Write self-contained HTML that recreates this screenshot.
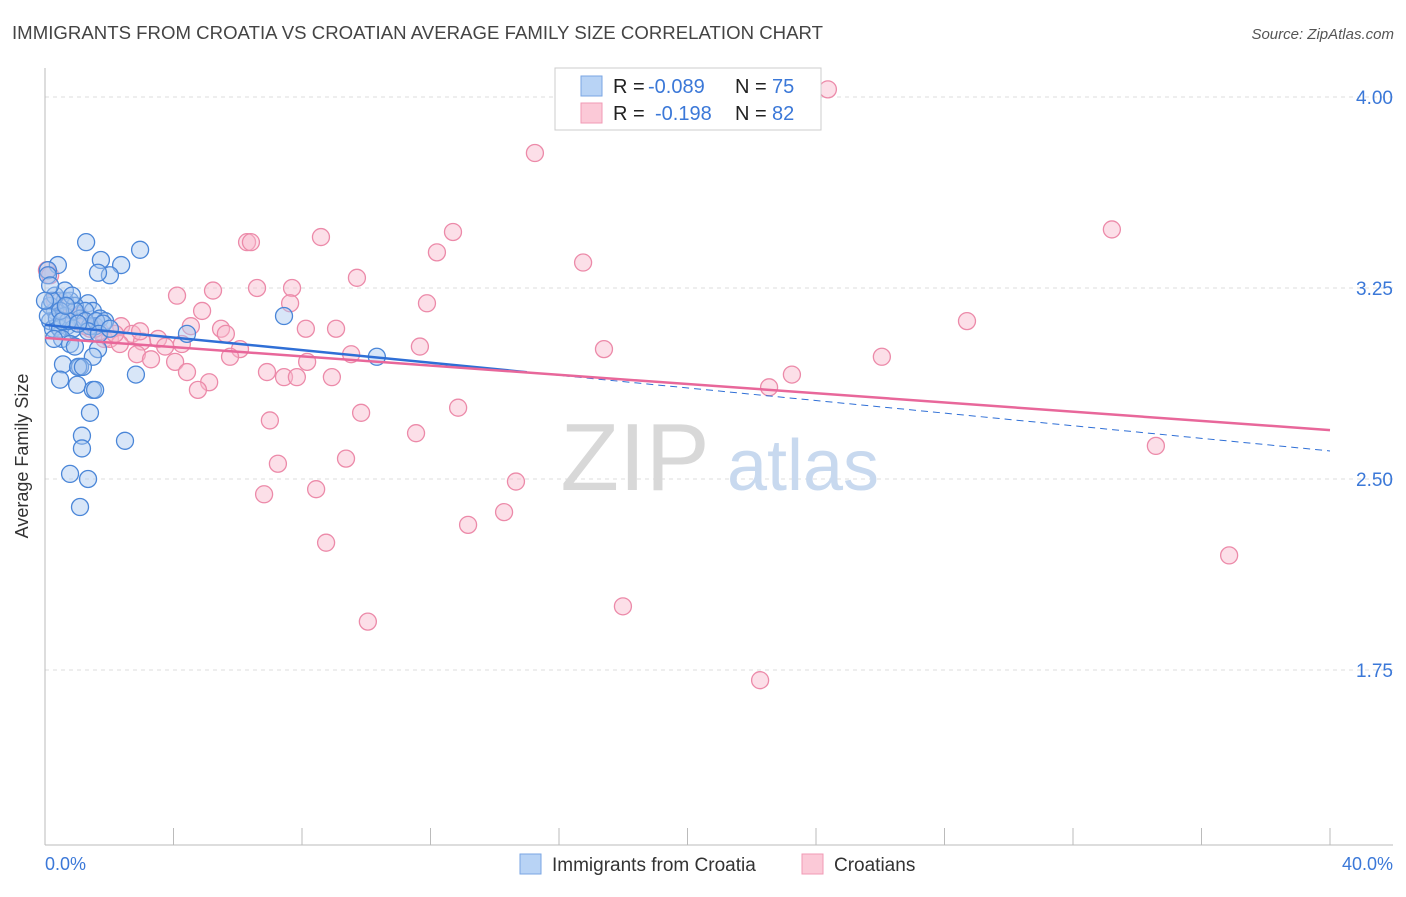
<!DOCTYPE html>
<html><head><meta charset="utf-8"><style>
body{margin:0;background:#fff;font-family:"Liberation Sans",sans-serif;}
svg text{font-family:"Liberation Sans",sans-serif;}
</style></head><body>
<svg id="chart" width="1406" height="892" viewBox="0 0 1406 892">
<text x="12" y="39" font-size="18.6" fill="#444" textLength="811">IMMIGRANTS FROM CROATIA VS CROATIAN AVERAGE FAMILY SIZE CORRELATION CHART</text>
<text x="1394" y="39" font-size="15" fill="#555" font-style="italic" text-anchor="end">Source: ZipAtlas.com</text>
<g id="grid"></g>
<g>
<text x="635" y="490" font-size="96" fill="#d8d8d8" font-family="Liberation Serif,serif" text-anchor="middle">ZIP</text>
<text x="803" y="490" font-size="72" fill="#c8d9ef" text-anchor="middle">atlas</text>
</g>
<g id="axes"></g>
<g id="pts"></g>
<g id="lines"></g>
<text x="28" y="456" font-size="18" fill="#333" text-anchor="middle" transform="rotate(-90 28 456)">Average Family Size</text>
<text x="45" y="870" font-size="18" fill="#3b78d8">0.0%</text>
<text x="1393" y="870" font-size="18" fill="#3b78d8" text-anchor="end">40.0%</text>
<g>
<rect x="555" y="68" width="266" height="62" fill="#fff" stroke="#ccc"/>
<rect x="581" y="76" width="21" height="20" fill="#b8d3f5" stroke="#7aa6e3"/>
<rect x="581" y="103" width="21" height="20" fill="#fbc9d7" stroke="#f09ab4"/>
<text x="613" y="93" font-size="20" fill="#222">R = <tspan fill="#3b78d8" x="648">-0.089</tspan></text>
<text x="735" y="93" font-size="20" fill="#222">N = <tspan fill="#3b78d8" x="772">75</tspan></text>
<text x="613" y="120" font-size="20" fill="#222">R = <tspan fill="#3b78d8" x="655">-0.198</tspan></text>
<text x="735" y="120" font-size="20" fill="#222">N = <tspan fill="#3b78d8" x="772">82</tspan></text>
</g>
<g>
<rect x="520" y="854" width="21" height="20" fill="#b8d3f5" stroke="#7aa6e3"/>
<text x="552" y="871" font-size="19" fill="#333">Immigrants from Croatia</text>
<rect x="802" y="854" width="21" height="20" fill="#fbc9d7" stroke="#f09ab4"/>
<text x="834" y="871" font-size="19" fill="#333">Croatians</text>
</g>
</svg>
<script>
const yTicks=[4.00,3.25,2.50,1.75];
const yTickLabels=["4.00","3.25","2.50","1.75"];
const blueX=[1.28,2.96,1.74,2.37,2.02,1.65,0.40,0.09,0.09,0.47,0.62,0.78,1.34,0.93,1.49,1.25,0.31,0.62,1.09,1.71,0.16,0.40,0.68,1.56,1.87,0.25,0.47,0.87,1.40,0.53,0.78,0.93,1.65,1.49,0.56,1.09,1.03,1.18,2.83,0.47,1.00,1.49,1.56,1.40,1.15,2.49,1.15,0.78,1.34,1.09,7.44,4.42,10.33,0.16,0.31,0.62,0.93,1.25,0.22,0.37,0.72,0.09,0.47,0.84,1.59,1.81,1.34,0.16,0.0,0.53,0.65,1.03,0.28,1.68,2.02];
const blueY=[3.43,3.40,3.36,3.34,3.30,3.31,3.34,3.32,3.30,3.20,3.20,3.20,3.19,3.18,3.16,3.16,3.16,3.14,3.13,3.13,3.12,3.10,3.10,3.10,3.12,3.09,3.09,3.09,3.10,3.05,3.03,3.02,3.01,2.98,2.95,2.94,2.94,2.94,2.91,2.89,2.87,2.85,2.85,2.76,2.67,2.65,2.62,2.52,2.50,2.39,3.14,3.07,2.98,3.18,3.22,3.24,3.16,3.12,3.20,3.13,3.12,3.14,3.16,3.22,3.12,3.11,3.08,3.26,3.20,3.12,3.18,3.11,3.05,3.07,3.09];
const pinkX=[24.37,15.25,33.21,12.70,8.59,6.29,6.41,12.20,16.75,9.71,0.06,5.23,6.60,7.69,4.11,7.63,11.89,4.89,28.70,9.06,8.12,5.48,4.54,2.37,5.63,2.71,3.52,1.84,3.02,4.26,3.74,6.07,11.67,17.40,9.53,26.05,5.76,2.86,3.30,4.05,8.16,6.91,4.42,7.44,7.84,8.93,23.25,5.11,4.76,22.54,12.86,9.84,7.00,11.55,9.37,7.25,14.66,8.44,6.82,14.29,13.17,8.75,34.58,36.86,17.99,10.05,22.26,0.47,0.93,1.40,0.31,2.02,1.25,0.72,1.71,2.33,0.62,1.56,2.18,0.16,2.96,1.09];
const pinkY=[4.03,3.78,3.48,3.47,3.45,3.43,3.43,3.39,3.35,3.29,3.32,3.24,3.25,3.25,3.22,3.19,3.19,3.16,3.12,3.09,3.09,3.09,3.10,3.10,3.07,3.07,3.05,3.05,3.04,3.03,3.02,3.01,3.02,3.01,2.99,2.98,2.98,2.99,2.97,2.96,2.96,2.92,2.92,2.90,2.90,2.90,2.91,2.88,2.85,2.86,2.78,2.76,2.73,2.68,2.58,2.56,2.49,2.46,2.44,2.37,2.32,2.25,2.63,2.20,2.00,1.94,1.71,3.16,3.12,3.09,3.20,3.05,3.10,3.13,3.08,3.03,3.18,3.09,3.07,3.30,3.08,3.14];
const blueTrend=[3.105,-0.01237];
const pinkTrend=[3.054,-0.00905];
const blueSolidEnd=15;
const NS='http://www.w3.org/2000/svg';
function xs(p){return 45+p*32.125;}
function ys(v){return 97+(4-v)*254.67;}
function mk(tag,attrs,parent){const e=document.createElementNS(NS,tag);for(const k in attrs)e.setAttribute(k,attrs[k]);parent.appendChild(e);return e;}
const grid=document.getElementById('grid'),axes=document.getElementById('axes'),pts=document.getElementById('pts'),lines=document.getElementById('lines');
yTicks.forEach((v,i)=>{
 const l=mk('line',{x1:45,x2:1393,y1:ys(v),y2:ys(v),stroke:'#ddd','stroke-dasharray':'4 4'},grid);
 
 
 const t=mk('text',{x:1393,y:ys(v)+7,'font-size':19,fill:'#3b78d8','text-anchor':'end'},axes);
 t.textContent=yTickLabels[i];
 
 
});
const ya=mk('line',{x1:45,x2:45,y1:68,y2:845,stroke:'#bbb'},axes);


const xa=mk('line',{x1:45,x2:1393,y1:845,y2:845,stroke:'#bbb'},axes);


for(let i=0;i<=10;i++){
 const t=mk('line',{x1:xs(i*4),x2:xs(i*4),y1:828,y2:845,stroke:'#bbb'},axes);
 
 
}
function dots(X,Y,fill,stroke,name){
 X.forEach((x,i)=>{
  const c=mk('circle',{cx:xs(x),cy:ys(Y[i]),r:8.5,fill:fill,'fill-opacity':0.45,stroke:stroke,'stroke-width':1.3},pts);
  
  
 });
}
dots(pinkX,pinkY,'#f9b7cb','#ec8aa9','point-croatians');
dots(blueX,blueY,'#a9c8f0','#4a86d8','point-immigrants-croatia');
const bt=p=>blueTrend[0]+blueTrend[1]*p, pt=p=>pinkTrend[0]+pinkTrend[1]*p;
const l1=mk('line',{x1:xs(0),y1:ys(bt(0)),x2:xs(blueSolidEnd),y2:ys(bt(blueSolidEnd)),stroke:'#2f6fd6','stroke-width':2.5},lines);


const l2=mk('line',{x1:xs(blueSolidEnd),y1:ys(bt(blueSolidEnd)),x2:xs(40),y2:ys(bt(40)),stroke:'#2f6fd6','stroke-width':1,'stroke-dasharray':'7 5'},lines);


const l3=mk('line',{x1:xs(0),y1:ys(pt(0)),x2:xs(40),y2:ys(pt(40)),stroke:'#e8679a','stroke-width':2.5},lines);


</script>
</body></html>
